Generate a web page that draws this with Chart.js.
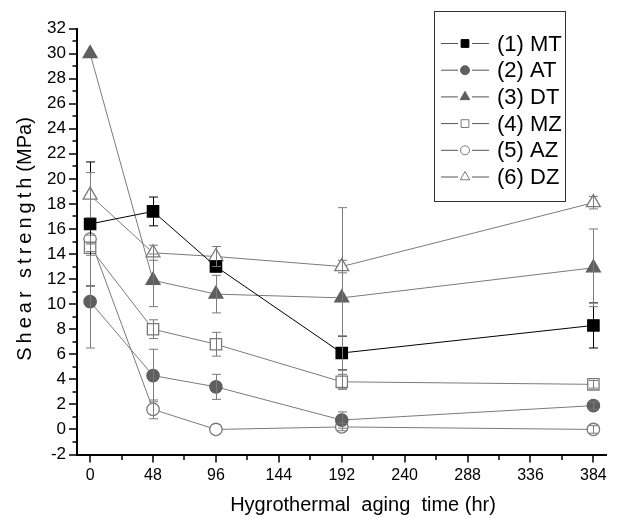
<!DOCTYPE html>
<html>
<head>
<meta charset="utf-8">
<script src="https://cdn.jsdelivr.net/npm/chart.js@4.4.1/dist/chart.umd.min.js"></script>
<style>
  html, body { margin: 0; padding: 0; background: #fff; }
  #wrap { width: 618px; height: 518px; }
</style>
</head>
<body>
<div id="wrap"><canvas id="chart"></canvas></div>
<script>
const agingHours = [0, 48, 96, 192, 384];
const xTicks = [0, 48, 96, 144, 192, 240, 288, 336, 384];
const xMinorTicks = [24, 72, 120, 168, 216, 264, 312, 360];
const seriesNames = ["(1) MT", "(2) AT", "(3) DT", "(4) MZ", "(5) AZ", "(6) DZ"];

const mtValues = [16.4, 17.4, 13.0, 6.1, 8.3];
const atValues = [10.2, 4.3, 3.4, 0.75, 1.9];
const dtValues = [30.0, 11.9, 10.8, 10.5, 12.9];
const mzValues = [14.5, 8.0, 6.8, 3.8, 3.6];
const azValues = [15.2, 1.6, 0.0, 0.2, 0.0];
const dzValues = [18.7, 14.1, 13.8, 13.0, 18.1];

const mtErrors = [4.95, 1.15, 0.4, 1.35, 1.8];
const atErrors = [3.7, 2.1, 1.0, 0.65, 0.3];
const dtErrors = [0, 2.1, 1.5, 7.2, 3.1];
const mzErrors = [0.3, 0.75, 0.95, 0.6, 0.3];
const azErrors = [0.3, 0.75, 0, 0.3, 0.3];
const dzErrors = [1.8, 0.6, 0.8, 0.5, 0.5];

const FONT = '"Liberation Sans", Arial, sans-serif';
const GRAY = "#7a7a7a";
const DARK = "#5f5f5f";

// ─── Datasets ────────────────────────────────────────────────────────────────

function series(label, values, errors, opts) {
  return {
    label,
    data: values.map((v, i) => ({ x: agingHours[i], y: v })),
    errors,
    showLine: true,
    borderColor: opts.line,
    borderWidth: 1,
    pointStyle: opts.style,
    pointRadius: opts.radius,
    pointHoverRadius: opts.radius,
    pointBackgroundColor: opts.fill,
    pointBorderColor: opts.stroke,
    pointBorderWidth: 1.3,
    errorColor: opts.error || GRAY,
    legendRadius: opts.legendRadius,
  };
}

const datasets = [
  series(seriesNames[0], mtValues, mtErrors, { line: "#000", style: "rect", radius: 8, fill: "#000", stroke: "#000", error: "#000", legendRadius: 5.5 }),
  series(seriesNames[1], atValues, atErrors, { line: GRAY, style: "circle", radius: 6.2, fill: DARK, stroke: DARK, legendRadius: 4.5 }),
  series(seriesNames[2], dtValues, dtErrors, { line: GRAY, style: "triangle", radius: 8, fill: DARK, stroke: DARK, legendRadius: 5.5 }),
  series(seriesNames[3], mzValues, mzErrors, { line: GRAY, style: "rect", radius: 8, fill: "#fff", stroke: GRAY, legendRadius: 5.5 }),
  series(seriesNames[4], azValues, azErrors, { line: GRAY, style: "circle", radius: 6.2, fill: "#fff", stroke: GRAY, legendRadius: 4.5 }),
  series(seriesNames[5], dzValues, dzErrors, { line: GRAY, style: "triangle", radius: 8, fill: "#fff", stroke: GRAY, legendRadius: 5.5 }),
];

// ─── Plugins ─────────────────────────────────────────────────────────────────

const errorBars = {
  id: "errorBars",
  afterDatasetsDraw(chart) {
    const { ctx, scales: { x, y } } = chart;
    ctx.save();
    ctx.lineWidth = 1;
    chart.data.datasets.forEach((ds) => {
      ctx.strokeStyle = ds.errorColor;
      ds.data.forEach((p, i) => {
        const e = ds.errors[i];
        if (!e) return;
        const px = Math.round(x.getPixelForValue(p.x)) + 0.5;
        const top = y.getPixelForValue(p.y + e);
        const bot = y.getPixelForValue(p.y - e);
        ctx.beginPath();
        ctx.moveTo(px, top); ctx.lineTo(px, bot);
        ctx.moveTo(px - 4.5, top); ctx.lineTo(px + 4.5, top);
        ctx.moveTo(px - 4.5, bot); ctx.lineTo(px + 4.5, bot);
        ctx.stroke();
      });
    });
    ctx.restore();
  },
};

const tickMarks = {
  id: "tickMarks",
  afterDraw(chart) {
    const { ctx, scales: { x, y }, chartArea: a } = chart;
    ctx.save();
    ctx.strokeStyle = "#000";
    ctx.lineWidth = 1.5;
    ctx.beginPath();
    for (let v = -2; v <= 32; v += 1) {
      const py = Math.round(y.getPixelForValue(v));
      ctx.moveTo(a.left, py);
      ctx.lineTo(a.left - (v % 2 === 0 ? 8 : 4.5), py);
    }
    xTicks.forEach((v) => {
      const px = Math.round(x.getPixelForValue(v));
      ctx.moveTo(px, a.bottom); ctx.lineTo(px, a.bottom + 8);
    });
    xMinorTicks.forEach((v) => {
      const px = Math.round(x.getPixelForValue(v));
      ctx.moveTo(px, a.bottom); ctx.lineTo(px, a.bottom + 5.5);
    });
    ctx.stroke();
    ctx.restore();
  },
};

const axisTitles = {
  id: "axisTitles",
  afterDraw(chart) {
    const { ctx } = chart;
    ctx.save();
    ctx.fillStyle = "#000";
    ctx.font = "20px " + FONT;
    ctx.textBaseline = "middle";
    ctx.textAlign = "center";
    ctx.fillText("Hygrothermal  aging  time (hr)", 363, 505);

    // y title: letter-spaced words, rotated
    ctx.translate(25, 239);
    ctx.rotate(-Math.PI / 2);
    const head = "Shear strength";
    const tail = "(MPa)";
    ctx.letterSpacing = "4px";
    const wHead = ctx.measureText(head).width;
    ctx.letterSpacing = "0px";
    const wTail = ctx.measureText(tail).width;
    const total = wHead + 2 + wTail;
    ctx.textAlign = "left";
    ctx.letterSpacing = "4px";
    ctx.fillText(head, -total / 2, 0);
    ctx.letterSpacing = "0px";
    ctx.fillText(tail, -total / 2 + wHead + 2, 0);
    ctx.restore();
  },
};

const boxLegend = {
  id: "boxLegend",
  afterDraw(chart) {
    const { ctx } = chart;
    const box = { left: 434.5, top: 11.5, right: 565.5, bottom: 201.5 };
    ctx.save();
    ctx.fillStyle = "#fff";
    ctx.fillRect(box.left, box.top, box.right - box.left, box.bottom - box.top);
    ctx.strokeStyle = "#333";
    ctx.lineWidth = 1;
    ctx.strokeRect(box.left, box.top, box.right - box.left, box.bottom - box.top);
    ctx.font = "22px " + FONT;
    ctx.textBaseline = "middle";
    chart.data.datasets.forEach((ds, i) => {
      const cy = 43.5 + i * 26.7;
      ctx.strokeStyle = "#555";
      ctx.lineWidth = 1;
      ctx.beginPath();
      ctx.moveTo(441, cy); ctx.lineTo(458, cy);
      ctx.moveTo(472, cy); ctx.lineTo(489, cy);
      ctx.stroke();
      ctx.fillStyle = ds.pointBackgroundColor;
      ctx.strokeStyle = ds.pointBorderColor;
      ctx.lineWidth = 1;
      Chart.helpers.drawPoint(ctx, {
        pointStyle: ds.pointStyle, radius: ds.legendRadius, rotation: 0, borderWidth: 1,
      }, 465, cy);
      ctx.fillStyle = "#000";
      ctx.fillText(ds.label, 497, cy + 1);
    });
    ctx.restore();
  },
};

// ─── Chart ───────────────────────────────────────────────────────────────────

new Chart(document.getElementById("chart"), {
  type: "scatter",
  data: { datasets },
  options: {
    responsive: true,
    maintainAspectRatio: false,
    animation: false,
    layout: { padding: { left: 0, top: 28.5, right: 10, bottom: 0 } },
    plugins: { legend: { display: false }, tooltip: { enabled: false } },
    scales: {
      x: {
        type: "linear",
        min: -10,
        max: 394,
        afterBuildTicks: (s) => { s.ticks = xTicks.map((v) => ({ value: v })); },
        afterFit: (s) => { s.height = 63.5; },
        grid: { display: false, drawTicks: false },
        border: { display: true, color: "#000", width: 2 },
        ticks: { color: "#000", font: { family: FONT, size: 16 }, padding: 11, maxRotation: 0, autoSkip: false },
      },
      y: {
        type: "linear",
        min: -2,
        max: 32,
        afterFit: (s) => { s.width = 77; },
        grid: { display: false, drawTicks: false },
        border: { display: true, color: "#000", width: 2 },
        ticks: { stepSize: 2, color: "#000", font: { family: FONT, size: 17 }, padding: 11 },
      },
    },
  },
  plugins: [errorBars, tickMarks, axisTitles, boxLegend],
});
</script>
</body>
</html>
